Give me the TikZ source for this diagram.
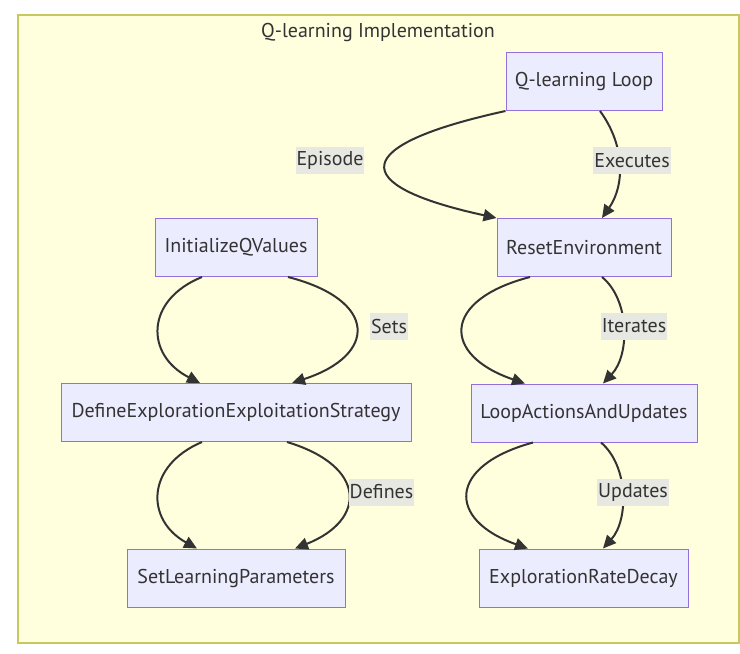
\documentclass[tikz,border=0pt]{standalone}
\usepackage{fontspec}
\setmainfont{PT Sans}
\usetikzlibrary{arrows.meta}
\definecolor{clfill}{HTML}{FFFFDE}
\definecolor{clborder}{HTML}{C8C860}
\definecolor{nfill}{HTML}{ECECFF}
\definecolor{nborder}{HTML}{9370DB}
\definecolor{txt}{HTML}{333333}
\definecolor{lblbg}{HTML}{E8E8E2}
\begin{document}
\begin{tikzpicture}[x=1pt,y=-1pt,
  box/.style={draw=nborder,fill=nfill,line width=1pt,minimum height=58pt,inner sep=0pt,text=txt,font=\fontsize{20}{24}\selectfont},
  lbl/.style={fill=lblbg,inner xsep=1pt,inner ysep=0pt,minimum height=27pt,text=txt,font=\fontsize{20}{24}\selectfont},
  conn/.style={draw=txt,line width=2pt,-{Triangle[length=13pt,width=12pt]}}]
\useasboundingbox[fill=white] (0,0) rectangle (740,654);
\draw[fill=clfill,draw=clborder,line width=1.5pt] (18,15) rectangle (739,643);
\node[text=txt,font=\fontsize{20}{24}\selectfont] (title) at (378,32) {Q-learning Implementation};

\node[box,minimum width=156pt] (q) at (584,81.5) {Q-learning Loop};
\node[box,minimum width=174pt] (reset) at (584,247.5) {ResetEnvironment};
\node[box,minimum width=162pt] (init) at (236,247.5) {InitializeQValues};
\node[box,minimum width=350pt] (def) at (236,412.5) {DefineExplorationExploitationStrategy};
\node[box,minimum width=226pt] (loop) at (584,413) {LoopActionsAndUpdates};
\node[box,minimum width=209pt] (erd) at (583.5,578) {ExplorationRateDecay};
\node[box,minimum width=218pt] (slp) at (236,578) {SetLearningParameters};

\draw[conn] (q.south west) .. controls (350,145) and (345,185) .. (reset.north west);
\draw[conn] ([xshift=16pt]q.south) .. controls (625,145) and (625,185) .. ([xshift=18pt]reset.north);

\draw[conn] ([xshift=-34pt]init.south) .. controls (145,300) and (145,355) .. ([xshift=-36pt]def.north);
\draw[conn] ([xshift=52pt]init.south) .. controls (378,300) and (378,355) .. ([xshift=56pt]def.north);

\draw[conn] ([xshift=-34pt]def.south) .. controls (145.5,466) and (145.5,520) .. ([xshift=-39pt]slp.north);
\draw[conn] ([xshift=51pt]def.south) .. controls (367,466) and (367,520) .. ([xshift=59pt]slp.north);

\draw[conn] ([xshift=-54pt]reset.south) .. controls (441.5,300) and (441.5,355) .. ([xshift=-59pt]loop.north);
\draw[conn] ([xshift=18pt]reset.south) .. controls (630,300) and (630,355) .. ([xshift=19pt]loop.north);

\draw[conn] ([xshift=-51pt]loop.south) .. controls (447,466) and (447,520) .. ([xshift=-55.5pt]erd.north);
\draw[conn] ([xshift=17pt]loop.south) .. controls (628.7,466) and (628.7,520) .. ([xshift=19.5pt]erd.north);

\node[lbl] (lep) at (330,160.5) {Episode};
\node[lbl] (lex) at (632,160.5) {Executes};
\node[lbl] (lse) at (389,326.5) {Sets};
\node[lbl] (lit) at (634,326) {Iterates};
\node[lbl] (lde) at (381.5,492) {Defines};
\node[lbl] (lup) at (633,492) {Updates};
\end{tikzpicture}
\end{document}
